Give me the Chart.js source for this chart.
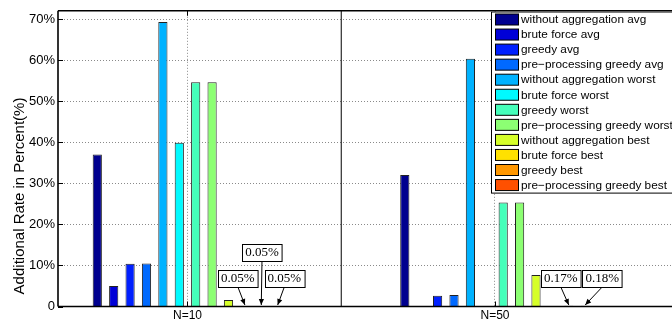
<!DOCTYPE html>
<html>
<head>
<meta charset="utf-8">
<script src="https://cdn.jsdelivr.net/npm/chart.js@4.4.0/dist/chart.umd.min.js"></script>
<style>
html,body{margin:0;padding:0;background:#fff;overflow:hidden}
#wrap{position:relative;width:672px;height:322px}
</style>
</head>
<body>
<div id="wrap"><canvas id="c" width="672" height="322"></canvas></div>
<script>
// ---------- data ----------
const categories = ['N=10', 'N=50'];
const seriesNames = [
  'without aggregation avg', 'brute force avg', 'greedy avg', 'pre\u2212processing greedy avg',
  'without aggregation worst', 'brute force worst', 'greedy worst', 'pre\u2212processing greedy worst',
  'without aggregation best', 'brute force best', 'greedy best', 'pre\u2212processing greedy best'
];
// values in percent, [N=10, N=50]
const withoutAggregationAvg    = [37.0, 32.0];
const bruteForceAvg            = [5.0, 0.1];
const greedyAvg                = [10.4, 2.6];
const preprocessingGreedyAvg   = [10.5, 2.8];
const withoutAggregationWorst  = [69.3, 60.3];
const bruteForceWorst          = [39.9, 0];
const greedyWorst              = [54.6, 25.3];
const preprocessingGreedyWorst = [54.6, 25.3];
const withoutAggregationBest   = [1.6, 7.7];
const bruteForceBest           = [0.05, 0];
const greedyBest               = [0.05, 0.17];
const preprocessingGreedyBest  = [0.05, 0.18];
const seriesValues = [
  withoutAggregationAvg, bruteForceAvg, greedyAvg, preprocessingGreedyAvg,
  withoutAggregationWorst, bruteForceWorst, greedyWorst, preprocessingGreedyWorst,
  withoutAggregationBest, bruteForceBest, greedyBest, preprocessingGreedyBest
];
const yTickValues = [0, 10, 20, 30, 40, 50, 60, 70];
const yTickLabels = ['0', '10%', '20%', '30%', '40%', '50%', '60%', '70%'];
const yAxisTitle = 'Additional Rate in Percent(%)';
// group separator (between the two categories)
const separatorX = [1.5, 1.5];
const separatorY = [0, 72];
// annotations: series index, category index, text
const annotationSeries = [9, 10, 11, 10, 11];
const annotationCategories = [0, 0, 0, 1, 1];
const annotationTexts = ['0.05%', '0.05%', '0.05%', '0.17%', '0.18%'];

// ---------- style / layout ----------
const barColors = ['#00008f','#0000d7','#0020ff','#0069ff','#00b2ff','#00faff',
                   '#45ffba','#8cff73','#d6ff29','#ffe100','#ff9700','#ff5000'];
const annotationBoxOffsets = [[-7, -36.5], [0.7, -62.5], [6.6, -36.5], [-8, -36.5], [17, -36.5]]; // [dx from bar, top relative to axis]
const X_MIN = 0.5789, X_MAX = 2.5756, Y_MAX = 72;

Chart.defaults.font.family = '"Liberation Sans", Arial, Helvetica, sans-serif';
Chart.defaults.color = '#000';

const barDatasets = seriesNames.map((name, s) => ({
  type: 'bar',
  label: name,
  data: seriesValues[s].map((v, i) => ({x: i + 1, y: v})),
  backgroundColor: barColors[s],
  borderColor: '#222',
  borderWidth: 1,
  borderSkipped: 'start',
  categoryPercentage: 0.64,
  barPercentage: 0.56
}));
const separatorDataset = {
  type: 'line',
  label: '__separator',
  data: separatorX.map((x, i) => ({x: x, y: separatorY[i]})),
  borderColor: '#000',
  borderWidth: 1,
  pointRadius: 0,
  fill: false
};

const framePlugin = {
  id: 'frame',
  afterDatasetsDraw(chart) {
    const {ctx, chartArea: a} = chart;
    const xs = chart.scales.x, ys = chart.scales.y;
    ctx.save();
    ctx.strokeStyle = '#000';
    ctx.lineWidth = 1;
    ctx.beginPath();
    yTickValues.forEach(v => {
      const y = Math.round(ys.getPixelForValue(v)) + 0.5;
      ctx.moveTo(a.left, y); ctx.lineTo(a.left + 5, y);
    });
    categories.forEach((c, i) => {
      const x = Math.round(xs.getPixelForValue(i + 1)) + 0.5;
      ctx.moveTo(x, a.bottom); ctx.lineTo(x, a.bottom - 5);
      ctx.moveTo(x, a.top); ctx.lineTo(x, a.top + 5);
    });
    ctx.stroke();
    ctx.lineWidth = 1.6;
    ctx.beginPath();
    ctx.moveTo(a.left, a.bottom); ctx.lineTo(a.right + 2, a.bottom);
    ctx.moveTo(a.left, a.bottom); ctx.lineTo(a.left, a.top);
    ctx.moveTo(a.left, a.top); ctx.lineTo(a.right + 2, a.top);
    ctx.stroke();
    ctx.restore();
  },
  afterDraw(chart) {
    const {ctx, chartArea: a} = chart;
    const ys = chart.scales.y;
    // y axis title
    ctx.save();
    ctx.translate(20, 196);
    ctx.rotate(-Math.PI / 2);
    ctx.font = '15px "Liberation Sans", Arial, sans-serif';
    ctx.fillStyle = '#000';
    ctx.textAlign = 'center';
    ctx.textBaseline = 'middle';
    ctx.fillText(yAxisTitle, 0, 0);
    ctx.restore();

    // legend
    ctx.save();
    const lx = 491, ly = 11.5, rowH = 15.05;
    const lh = rowH * seriesNames.length + 0.5;
    ctx.fillStyle = '#fff';
    ctx.fillRect(lx, ly, 200, lh);
    ctx.strokeStyle = '#000';
    ctx.lineWidth = 1;
    ctx.strokeRect(lx + 0.5, ly + 0.5, 200, lh);
    ctx.font = '11.8px "Liberation Sans", Arial, sans-serif';
    ctx.textBaseline = 'middle';
    ctx.textAlign = 'left';
    chart.data.datasets.forEach((ds, s) => {
      if (ds.type !== 'bar') return;
      const top = ly + 2 + s * rowH;
      ctx.fillStyle = ds.backgroundColor;
      ctx.fillRect(lx + 4.5, top + 0.5, 23, 11);
      ctx.strokeStyle = '#000';
      ctx.strokeRect(lx + 4.5, top + 0.5, 23, 11);
      ctx.fillStyle = '#000';
      ctx.fillText(ds.label, lx + 30, top + 6.5);
    });
    ctx.restore();

    // annotations
    ctx.save();
    ctx.font = '13px "Liberation Serif", "Times New Roman", serif';
    ctx.textAlign = 'center';
    ctx.textBaseline = 'middle';
    annotationTexts.forEach((txt, k) => {
      const bar = chart.getDatasetMeta(annotationSeries[k]).data[annotationCategories[k]];
      const off = annotationBoxOffsets[k];
      const cx = bar.x + off[0];
      const top = a.bottom + off[1];
      const w = ctx.measureText(txt).width + 6;
      const h = 17;
      const bx = Math.round(cx - w / 2) + 0.5, by = Math.round(top) + 0.5;
      const sx = cx, sy = top + h;
      const tx = bar.x, ty = ys.getPixelForValue(0) - 1.5;
      ctx.strokeStyle = '#000';
      ctx.fillStyle = '#000';
      ctx.lineWidth = 1;
      ctx.beginPath(); ctx.moveTo(sx, sy); ctx.lineTo(tx, ty); ctx.stroke();
      const ang = Math.atan2(ty - sy, tx - sx);
      const L = 6, W = 2.6;
      ctx.beginPath();
      ctx.moveTo(tx, ty);
      ctx.lineTo(tx - L * Math.cos(ang) + W * Math.sin(ang), ty - L * Math.sin(ang) - W * Math.cos(ang));
      ctx.lineTo(tx - L * Math.cos(ang) - W * Math.sin(ang), ty - L * Math.sin(ang) + W * Math.cos(ang));
      ctx.closePath(); ctx.fill();
      ctx.fillStyle = '#fff';
      ctx.fillRect(bx, by, w, h);
      ctx.strokeRect(bx, by, w, h);
      ctx.fillStyle = '#000';
      ctx.fillText(txt, cx, top + h / 2 + 0.5);
    });
    ctx.restore();
  }
};

new Chart(document.getElementById('c'), {
  type: 'bar',
  data: { datasets: [...barDatasets, separatorDataset] },
  options: {
    responsive: false,
    devicePixelRatio: 1,
    animation: false,
    layout: { padding: { top: 10.3, right: 0, bottom: 0, left: 0 } },
    plugins: { legend: { display: false }, tooltip: { enabled: false } },
    scales: {
      x: {
        type: 'linear',
        position: 'bottom',
        min: X_MIN, max: X_MAX,
        offset: false,
        afterBuildTicks: s => { s.ticks = categories.map((c, i) => ({value: i + 1})); },
        afterFit: s => { s.height = 15.5; },
        ticks: {
          callback: (v, i) => categories[i],
          font: { size: 12 }, color: '#000', padding: 2,
          autoSkip: false, maxRotation: 0
        },
        grid: { offset: false, drawTicks: false, color: '#8a8a8a', lineWidth: 1, borderDash: [1, 2] },
        border: { display: false, dash: [1, 2] }
      },
      y: {
        type: 'linear',
        position: 'left',
        min: 0, max: Y_MAX,
        afterBuildTicks: s => { s.ticks = yTickValues.map(v => ({value: v})); },
        afterFit: s => { s.width = 58; },
        ticks: {
          callback: (v, i) => yTickLabels[i],
          font: { size: 13 }, color: '#000', padding: 3
        },
        grid: { drawTicks: false, color: '#8a8a8a', lineWidth: 1, borderDash: [1, 2] },
        border: { display: false, dash: [1, 2] }
      }
    }
  },
  plugins: [framePlugin]
});
</script>
</body>
</html>
